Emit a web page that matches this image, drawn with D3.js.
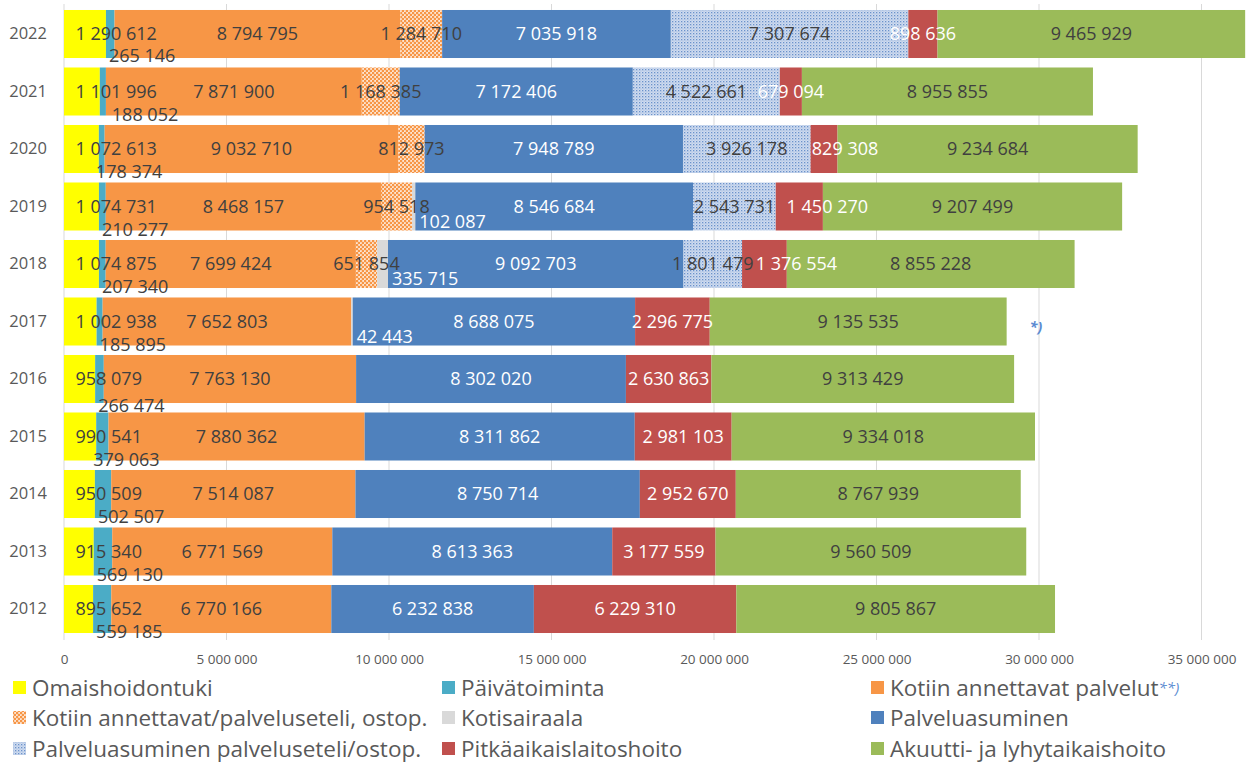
<!DOCTYPE html>
<html>
<head>
<meta charset="utf-8">
<script src="https://cdn.jsdelivr.net/npm/d3@7"></script>
<style>
  html, body { margin: 0; padding: 0; background: #fff; }
  svg { display: block; font-family: "Open Sans", "Noto Sans", sans-serif; }
</style>
</head>
<body>
<svg id="chart" width="1248" height="766"></svg>
<script>
// ---------- data ----------
const years = ["2022","2021","2020","2019","2018","2017","2016","2015","2014","2013","2012"];
const seriesNames = [
  "Omaishoidontuki",
  "Päivätoiminta",
  "Kotiin annettavat palvelut",
  "Kotiin annettavat/palveluseteli, ostop.",
  "Kotisairaala",
  "Palveluasuminen",
  "Palveluasuminen palveluseteli/ostop.",
  "Pitkäaikaislaitoshoito",
  "Akuutti- ja lyhytaikaishoito"
];
const omaishoidontuki   = [1290612,1101996,1072613,1074731,1074875,1002938,958079,990541,950509,915340,895652];
const paivatoiminta     = [265146,188052,178374,210277,207340,185895,266474,379063,502507,569130,559185];
const kotiinPalvelut    = [8794795,7871900,9032710,8468157,7699424,7652803,7763130,7880362,7514087,6771569,6770166];
const kotiinOstop       = [1284710,1168385,812973,954518,651854,0,0,0,0,0,0];
const kotisairaala      = [0,0,0,102087,335715,42443,0,0,0,0,0];
const palveluasuminen   = [7035918,7172406,7948789,8546684,9092703,8688075,8302020,8311862,8750714,8613363,6232838];
const palveluOstop      = [7307674,4522661,3926178,2543731,1801479,0,0,0,0,0,0];
const pitkaaikais       = [898636,679094,829308,1450270,1376554,2296775,2630863,2981103,2952670,3177559,6229310];
const akuutti           = [9465929,8955855,9234684,9207499,8855228,9135535,9313429,9334018,8767939,9560509,9805867];
const xTicks = [0,5000000,10000000,15000000,20000000,25000000,30000000,35000000];

const seriesValues = [omaishoidontuki, paivatoiminta, kotiinPalvelut, kotiinOstop, kotisairaala,
                      palveluasuminen, palveluOstop, pitkaaikais, akuutti];

// ---------- styles ----------
const fills = ["#FFFF00","#4BACC6","#F79646","url(#patOrange)","#D9D9D9","#4F81BD","url(#patBlue)","#C0504D","#9BBB59"];
const labelColors = ["#404040","#404040","#404040","#404040","#ffffff","#ffffff","#404040","#ffffff","#404040"];
// manual label nudges (as placed in the original chart), in px
const paivaNudgeX = {"2021": 9, "2020": -6, "2015": -6};
const paivaNudgeY = {"2022": -1, "2016": 4};
const pitkaNudgeX = {"2020": 21, "2019": 28, "2018": 32};

const svg = d3.select("#chart");
const defs = svg.append("defs");
// orange dotted pattern
const po = defs.append("pattern").attr("id","patOrange").attr("patternUnits","userSpaceOnUse")
  .attr("width",4).attr("height",4);
po.append("rect").attr("width",4).attr("height",4).attr("fill","#fde6d4");
po.append("circle").attr("cx",1).attr("cy",1).attr("r",1.35).attr("fill","#F79646");
po.append("circle").attr("cx",3).attr("cy",3).attr("r",1.35).attr("fill","#F79646");
// blue dotted pattern
const pb = defs.append("pattern").attr("id","patBlue").attr("patternUnits","userSpaceOnUse")
  .attr("width",3).attr("height",3);
pb.append("rect").attr("width",3).attr("height",3).attr("fill","#d0dcef");
pb.append("rect").attr("x",0).attr("y",0).attr("width",1.3).attr("height",1.3).attr("fill","#6a92cb");
pb.append("rect").attr("x",1.5).attr("y",1.5).attr("width",1).attr("height",1).attr("fill","#96b2dc");

// ---------- scales ----------
const x = d3.scaleLinear().domain([0, 35000000]).range([64, 1201.5]);
const y = d3.scaleBand().domain(years).range([5.25, 637.75]).paddingInner(0.165).paddingOuter(0.0825);

const fmt = v => d3.format(",")(v).replace(/,/g, " ");

// gridlines
const grid = svg.append("g");
grid.selectAll("line").data(xTicks).join("line")
  .attr("x1", d => x(d)).attr("x2", d => x(d))
  .attr("y1", 4).attr("y2", 640)
  .attr("stroke", "#d9d9d9").attr("stroke-width", 1);

// x axis labels via d3 axis
const xAxis = svg.append("g").attr("transform", "translate(0,652)")
  .call(d3.axisBottom(x).tickValues(xTicks).tickSize(0).tickPadding(0).tickFormat(fmt));
xAxis.select(".domain").remove();
xAxis.selectAll("text").attr("fill", "#595959").attr("font-size", "13.5px")
  .attr("font-family", "'Open Sans', sans-serif").attr("dy", "0.9em");

// y axis labels
const yAxis = svg.append("g").attr("transform", "translate(47,0)")
  .call(d3.axisLeft(y).tickSize(0).tickPadding(0));
yAxis.select(".domain").remove();
yAxis.selectAll("text").attr("fill", "#595959").attr("font-size", "16.5px")
  .attr("font-family", "'Open Sans', sans-serif");

// stacked layout
const rows = years.map((yr, i) => {
  const r = { year: yr };
  seriesNames.forEach((s, k) => r[s] = seriesValues[k][i]);
  return r;
});
const stack = d3.stack().keys(seriesNames)(rows);

const barsG = svg.append("g");
stack.forEach((layer, k) => {
  barsG.append("g").selectAll("rect").data(layer.filter(d => d[1] - d[0] > 0)).join("rect")
    .attr("x", d => x(d[0]))
    .attr("y", d => y(d.data.year))
    .attr("width", d => x(d[1]) - x(d[0]))
    .attr("height", y.bandwidth())
    .attr("fill", fills[k]);
});

// labels
const labelsG = svg.append("g").attr("font-size", "18px");
stack.forEach((layer, k) => {
  labelsG.append("g").selectAll("text").data(layer.filter(d => d[1] - d[0] > 0)).join("text")
    .attr("fill", labelColors[k])
    .attr("text-anchor", k === 0 || k === 1 || k === 4 ? "start" : "middle")
    .attr("x", d => {
      const yr = d.data.year;
      if (k === 0) return x(d[0]) + 11.5;
      if (k === 1) return x(d[0]) + 3 + (paivaNudgeX[yr] || 0);
      if (k === 4) return x(d[1]) + 4;
      if (k === 7) return (x(d[0]) + x(d[1])) / 2 + (pitkaNudgeX[yr] || 0);
      return (x(d[0]) + x(d[1])) / 2;
    })
    .attr("y", d => {
      const yr = d.data.year;
      const c = y(yr) + y.bandwidth() / 2;
      if (k === 1) return c + 23 + (paivaNudgeY[yr] || 0);
      if (k === 4) return c + 15;
      return c;
    })
    .attr("dy", "0.35em")
    .text(d => fmt(d[1] - d[0]));
});

// footnote marker
svg.append("text")
  .attr("x", x(30000000) - 3).attr("y", y("2017") + y.bandwidth() / 2 + 10)
  .attr("text-anchor", "middle").attr("fill", "#5b8bd1")
  .attr("font-size", "14px").attr("font-style", "italic").attr("font-weight", "bold")
  .text("*)");

// legend
const legCols = [13, 442, 871];
const legRows = [681, 711, 742];
const legend = svg.append("g");
seriesNames.forEach((name, k) => {
  const cx = legCols[k % 3], ry = legRows[Math.floor(k / 3)];
  legend.append("rect").attr("x", cx).attr("y", ry).attr("width", 13).attr("height", 13)
    .attr("fill", fills[k]);
  const t = legend.append("text").attr("x", cx + 19).attr("y", ry + 14.5)
    .attr("fill", "#595959").attr("font-size", "22.5px").text(name);
  if (k === 2) {
    t.append("tspan").attr("fill", "#5b8bd1").attr("font-style", "italic")
      .attr("font-size", "15px").attr("dy", "-3").text("**)");
  }
});
</script>
</body>
</html>
